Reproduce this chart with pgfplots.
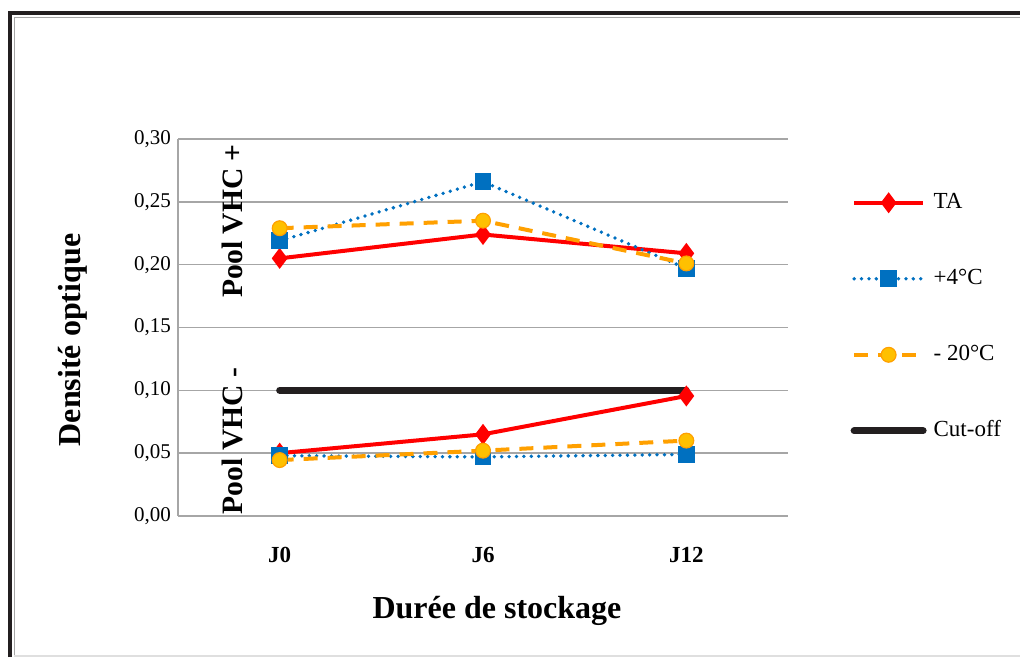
\documentclass[border=0pt]{standalone}
\usepackage{pgfplots}
\pgfplotsset{compat=1.18}
\usepackage{fontspec}
\setmainfont{Liberation Serif}
\definecolor{ta}{HTML}{FF0000}
\definecolor{bl}{HTML}{0070C0}
\definecolor{orl}{HTML}{FFA000}
\definecolor{orf}{HTML}{FFC000}
\definecolor{cut}{HTML}{231F20}
\definecolor{gridc}{HTML}{A6A6A6}
\begin{document}
\begin{tikzpicture}
\useasboundingbox (0pt,0pt) rectangle (510pt,328.5pt);
% frame
\draw[cut, line width=2pt] (5pt,0pt) -- (5pt,322pt) -- (510pt,322pt);
\draw[gridc, line width=0.8pt] (7.2pt,0pt) -- (7.2pt,319.8pt) -- (510pt,319.8pt);
\draw[gray!25, line width=0.8pt] (7.2pt,0.5pt) -- (510pt,0.5pt);
\begin{axis}[
  at={(89pt,70.5pt)}, anchor=south west,
  scale only axis, width=305pt, height=188.5pt,
  xmin=-0.5, xmax=2.5, ymin=0, ymax=0.30,
  xtick={0,1,2}, xticklabels={J0,J6,J12},
  ytick={0,0.05,0.1,0.15,0.2,0.25,0.3},
  ymajorgrids, grid style={gridc, line width=0.7pt},
  axis x line*=bottom, axis y line*=left,
  axis line style={gridc, line width=0.7pt, -},
  major tick length=0pt,
  /pgf/number format/assume math mode=true,
  yticklabel style={/pgf/number format/.cd, fixed, fixed zerofill, precision=2, use comma},
  tick label style={font=\fontsize{10.5}{12}\selectfont},
  xticklabel style={font=\bfseries\fontsize{11.5}{13}\selectfont, yshift=-12pt},
  clip=false,
  legend cell align=left,
  legend style={at={(1.102,0.869)}, anchor=north west, draw=none, fill=none,
    inner sep=0pt, row sep=24pt, column sep=1.5pt,
    font=\fontsize{11.5}{13}\selectfont,
    nodes={text height=8pt, text depth=2pt, inner sep=2pt}},
  legend image code/.code={\draw[mark repeat=2,mark phase=2,#1] plot coordinates {(0pt,0pt) (17.25pt,0pt) (34.5pt,0pt)};},
]
% cut-off first (drawn below)
\addplot[cut, line width=3.5pt, line cap=round, forget plot] coordinates {(0,0.10) (2,0.10)};
% TA
\addplot[ta, line width=2pt, mark=diamond*, mark size=3.6pt, mark options={solid, fill=ta, draw=ta}]
  coordinates {(0,0.205) (1,0.224) (2,0.209)};
\addlegendentry{TA}
\addplot[ta, line width=2pt, mark=diamond*, mark size=3.6pt, mark options={solid, fill=ta, draw=ta}, forget plot]
  coordinates {(0,0.050) (1,0.065) (2,0.0955)};
% +4
\addplot[bl, line width=1.9pt, line cap=round, dash pattern=on 0pt off 3.7pt, mark=square*, mark size=3.9pt, mark options={solid, fill=bl, draw=bl, line width=0.5pt}]
  coordinates {(0,0.219) (1,0.266) (2,0.197)};
\addlegendentry{+4°C}
\addplot[bl, line width=1.9pt, line cap=round, dash pattern=on 0pt off 3.7pt, mark=square*, mark size=3.9pt, mark options={solid, fill=bl, draw=bl, line width=0.5pt}, forget plot]
  coordinates {(0,0.048) (1,0.047) (2,0.049)};
% -20
\addplot[orl, line width=2pt, dash pattern=on 7pt off 5pt, mark=*, mark size=3.7pt, mark options={solid, fill=orf, draw=orl, line width=0.6pt}]
  coordinates {(0,0.229) (1,0.235) (2,0.201)};
\addlegendentry{- 20°C}
\addplot[orl, line width=2pt, dash pattern=on 7pt off 5pt, mark=*, mark size=3.7pt, mark options={solid, fill=orf, draw=orl, line width=0.6pt}, forget plot]
  coordinates {(0,0.0445) (1,0.052) (2,0.060)};
\addlegendimage{cut, line width=3.5pt, line cap=round}
\addlegendentry{Cut-off}
\end{axis}
\node[rotate=90, anchor=base, font=\bfseries\fontsize{14.8}{16}\selectfont] at (121pt,218pt) {Pool VHC +};
\node[rotate=90, anchor=base, font=\bfseries\fontsize{14.8}{16}\selectfont] at (121pt,108pt) {Pool VHC -};
\node[rotate=90, anchor=base, font=\bfseries\fontsize{16}{18}\selectfont] at (40pt,158.5pt) {Densité optique};
\node[anchor=base, font=\bfseries\fontsize{16}{18}\selectfont] at (248.5pt,19.5pt) {Durée de stockage};
\end{tikzpicture}
\end{document}
